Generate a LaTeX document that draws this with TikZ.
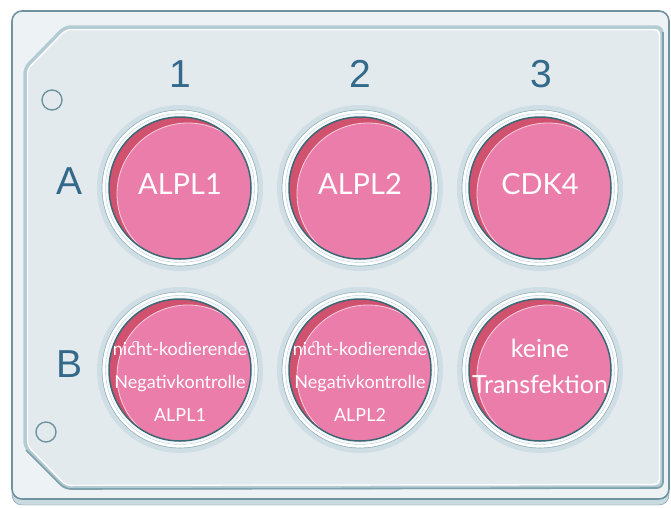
\documentclass[tikz,border=0pt]{standalone}
\usepackage{fontspec}
\setmainfont{Lato}[Ligatures=Rare]
\newfontfamily\gridfont{Liberation Sans}
\usetikzlibrary{positioning}
\definecolor{plateouter}{HTML}{EDF2F5}
\definecolor{plateedge}{HTML}{6F939F}
\definecolor{platefoot}{HTML}{C9DAE0}
\definecolor{plateinner}{HTML}{E2EAEE}
\definecolor{rimband}{HTML}{B3CBD3}
\definecolor{rimdark}{HTML}{7FA1AC}
\definecolor{halo}{HTML}{CEDEE4}
\definecolor{ringline}{HTML}{8FAEB8}
\definecolor{ringinner}{HTML}{B0C8D0}
\definecolor{ringwhite}{HTML}{F4F8FA}
\definecolor{wellpink}{HTML}{EB7DAA}
\definecolor{wellshade}{HTML}{D1526F}
\definecolor{welledge}{HTML}{3C6875}
\definecolor{gridblue}{HTML}{33698A}

\begin{document}
\begin{tikzpicture}[x=1pt, y=-1pt,
    well/.style={circle, minimum size=142pt, inner sep=0pt, fill=wellshade, draw=welledge, line width=1.5pt,
      preaction={draw=halo, line width=24pt},
      preaction={draw=ringline, line width=14.6pt},
      preaction={draw=white, line width=13.2pt},
      preaction={draw=ringinner, line width=7.4pt},
      preaction={draw=ringwhite, line width=6.6pt},
      path picture={\fill[wellpink, draw=white!65!wellpink, line width=0.8pt]
        ([xshift=8pt, yshift=-6pt]path picture bounding box.center) circle (71pt);}},
    hole/.style={circle, minimum size=20pt, inner sep=0pt, draw=plateedge, line width=1.4pt},
    gridlabel/.style={font=\gridfont\fontsize{39}{39}\selectfont, text=gridblue, inner sep=0pt},
    wellname/.style={font=\fontsize{29}{29}\selectfont, text=white},
    wellnote/.style={font=\fontsize{18}{33}\selectfont, text=white, align=center}
]
    \useasboundingbox (0,0) rectangle (671,507);

    % plate body
    \draw[draw=plateedge, fill=platefoot, rounded corners=10pt] (12,15) rectangle (669,505);
    \draw[draw=plateedge, fill=plateouter, line width=1.6pt, rounded corners=10pt] (12,11) rectangle (669,499);

    % raised inner deck with cut corners
    \draw[draw=rimband, fill=plateinner, line width=3.5pt, rounded corners=6pt]
        (25,68) -- (65,27) -- (662,27) -- (662,487) -- (65,488) -- (25,447) -- cycle;
    \draw[draw=rimdark, line width=1.6pt, rounded corners=6pt]
        (663,32) -- (663,488) -- (65,489) -- (26,450);
    \draw[draw=white, line width=1.2pt, rounded corners=5pt]
        (27.6,69) -- (66.1,29.6) -- (659.4,29.6) -- (659.4,484.4) -- (66.1,485.4) -- (27.6,446) -- cycle;

    \node[hole] (hole1) at (52,100) {};
    \node[hole] (hole2) at (46,432) {};

    % column and row labels
    \node[gridlabel] (col1) at (180,74) {1};
    \node[gridlabel] (col2) at (360,74) {2};
    \node[gridlabel] (col3) at (541,74) {3};
    \node[gridlabel] (rowA) at (70,181) {A};
    \node[gridlabel] (rowB) at (70,364) {B};

    % wells
    \node[well] (a1) at (180,188) {};
    \node[well] (a2) at (360,188) {};
    \node[well] (a3) at (540,188) {};
    \node[well] (b1) at (180,370) {};
    \node[well] (b2) at (360,370) {};
    \node[well] (b3) at (540,370) {};

    \node[wellname] (a1name) at ([yshift=4pt]a1.center) {ALPL1};
    \node[wellname] (a2name) at ([yshift=4pt]a2.center) {ALPL2};
    \node[wellname] (a3name) at ([yshift=4pt]a3.center) {CDK4};
    \node[wellnote] (b1note) at ([yshift=-11pt]b1.center) {nicht-kodierende\\Negativkontrolle\\ALPL1};
    \node[wellnote] (b2note) at ([yshift=-11pt]b2.center) {nicht-kodierende\\Negativkontrolle\\ALPL2};
    \node[wellnote, font=\fontsize{25}{36}\selectfont] (b3note) at ([yshift=4pt]b3.center) {keine\\Transfektion};
\end{tikzpicture}
\end{document}
